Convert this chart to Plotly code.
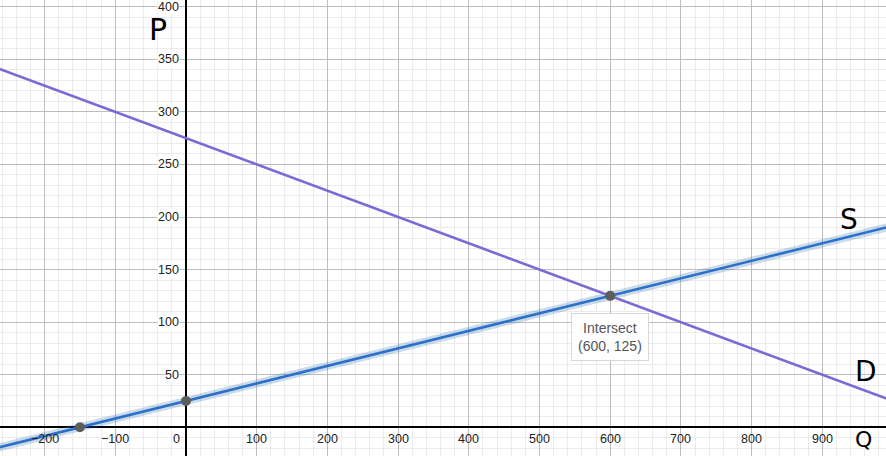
import plotly.graph_objects as go

# demand and supply lines (endpoints beyond the view)
demand_q = [-300, 1100]
demand_p = [350, 0]
supply_q = [-300, 1200]
supply_p = [-25, 225]

# marked points: supply x-intercept, supply y-intercept, equilibrium
point_q = [-150, 0, 600]
point_p = [0, 25, 125]

x_ticks = [-200, -100, 100, 200, 300, 400, 500, 600, 700, 800, 900]
y_ticks = [50, 100, 150, 200, 250, 300, 350, 400]

X_RANGE = [-263, 990]
Y_RANGE = [-27.3, 406.4]

FONT = "Liberation Sans, Arial, sans-serif"

fig = go.Figure()

# supply: light halo underneath, then the line
fig.add_trace(go.Scatter(
    x=supply_q, y=supply_p, mode="lines",
    line=dict(color="rgba(45,112,179,0.25)", width=8),
    hoverinfo="skip", showlegend=False,
))
fig.add_trace(go.Scatter(
    x=supply_q, y=supply_p, mode="lines",
    line=dict(color="#2d70c8", width=2.6),
    name="S", showlegend=False,
))
fig.add_trace(go.Scatter(
    x=demand_q, y=demand_p, mode="lines",
    line=dict(color="#7c69d6", width=2.6),
    name="D", showlegend=False,
))
fig.add_trace(go.Scatter(
    x=point_q, y=point_p, mode="markers",
    marker=dict(color="#5d5d5d", size=10),
    showlegend=False,
))

annotations = []
tick_font = dict(family=FONT, size=12.5, color="#222")
for v in x_ticks:
    label = f"−{abs(v)}" if v < 0 else str(v)
    annotations.append(dict(
        x=v, y=0, text=label, showarrow=False, yanchor="top", yshift=-3,
        font=tick_font,
    ))
annotations.append(dict(
    x=0, y=0, text="0", showarrow=False, xanchor="right", yanchor="top",
    xshift=-4, yshift=-3, font=tick_font,
))
for v in y_ticks:
    annotations.append(dict(
        x=0, y=v, text=str(v), showarrow=False, xanchor="right", xshift=-6,
        font=tick_font, bgcolor="white", borderpad=0,
    ))

# intersect tooltip
annotations.append(dict(
    x=600, y=125, text="Intersect<br>(600, 125)", showarrow=False,
    yanchor="top", yshift=-17, align="center",
    font=dict(family=FONT, size=14, color="#555"),
    bgcolor="white", bordercolor="#d8d8d8", borderwidth=1, borderpad=6,
))

# hand-written letters
for txt, qx, py, sz in [("P", -40, 378, 30), ("S", 938, 198, 28),
                        ("D", 962, 53, 28), ("Q", 958, -12, 22)]:
    annotations.append(dict(
        x=qx, y=py, text=txt, showarrow=False,
        font=dict(family="DejaVu Sans, sans-serif", size=sz, color="black"),
    ))

fig.update_layout(
    width=886, height=456,
    margin=dict(l=0, r=0, t=0, b=0),
    paper_bgcolor="white", plot_bgcolor="white",
    annotations=annotations,
    xaxis=dict(
        range=X_RANGE, dtick=100, showgrid=True, gridcolor="#bdbdbd", gridwidth=1,
        minor=dict(dtick=20, showgrid=True, gridcolor="#ebebeb", gridwidth=1),
        zeroline=True, zerolinecolor="black", zerolinewidth=1.5,
        showticklabels=False, fixedrange=True,
    ),
    yaxis=dict(
        range=Y_RANGE, dtick=50, showgrid=True, gridcolor="#bdbdbd", gridwidth=1,
        minor=dict(dtick=10, showgrid=True, gridcolor="#ebebeb", gridwidth=1),
        zeroline=True, zerolinecolor="black", zerolinewidth=1.5,
        showticklabels=False, fixedrange=True,
    ),
)

fig.write_html(
    "out.html",
    config={"displayModeBar": False},
    post_script="document.body.style.margin='0';",
)
